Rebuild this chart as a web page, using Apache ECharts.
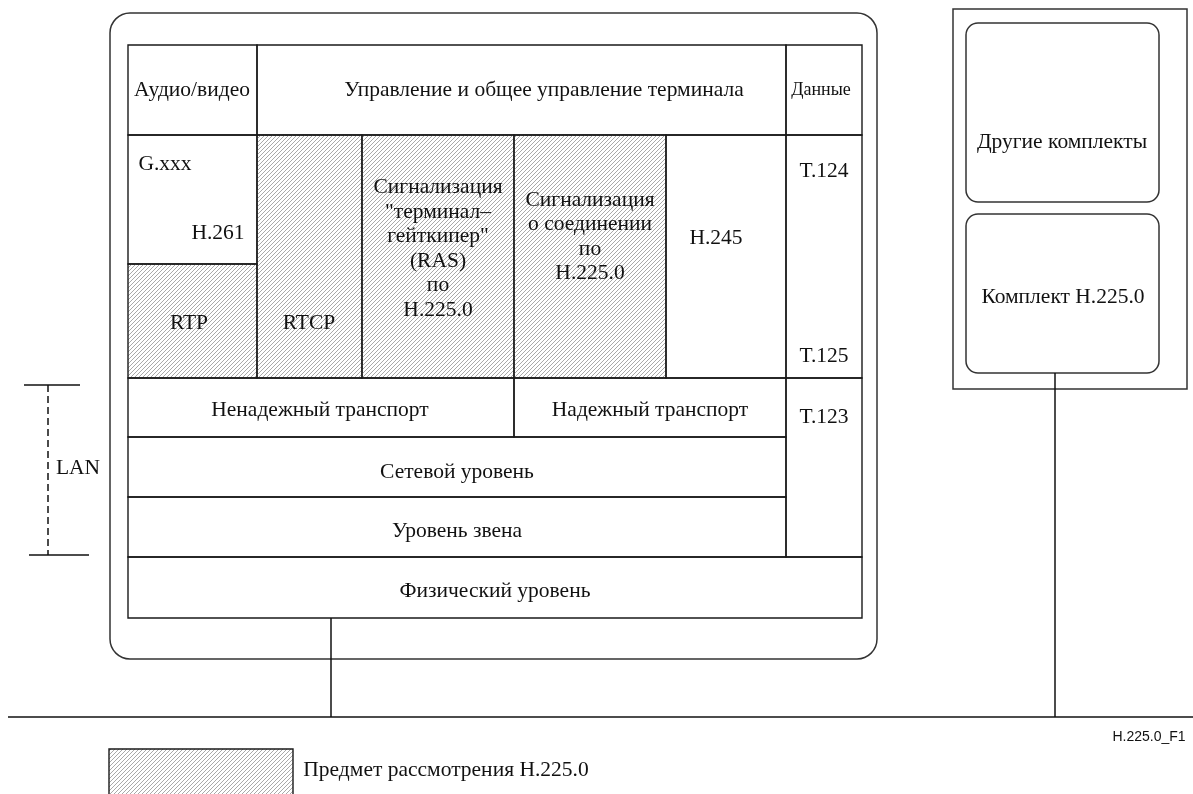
<!DOCTYPE html>
<html>
<head>
<meta charset="utf-8">
<script src="https://cdn.jsdelivr.net/npm/echarts@6/dist/echarts.min.js"></script>
<style>
html, body { margin: 0; background: #fff; }
#main { width: 1193px; height: 794px; }
</style>
</head>
<body>
<div id="main"></div>
<script>
// diagram units = page pixels, y grows downwards

// table cells: x0, y0, x1, y1, hatched
var cells = [
    [128, 45, 257, 135, 0],
    [257, 45, 786, 135, 0],
    [786, 45, 862, 135, 0],
    [128, 135, 257, 264, 0],
    [128, 264, 257, 378, 1],
    [257, 135, 362, 378, 1],
    [362, 135, 514, 378, 1],
    [514, 135, 666, 378, 1],
    [666, 135, 786, 378, 0],
    [786, 135, 862, 378, 0],
    [128, 378, 514, 437, 0],
    [514, 378, 786, 437, 0],
    [786, 378, 862, 557, 0],
    [128, 437, 786, 497, 0],
    [128, 497, 786, 557, 0],
    [128, 557, 862, 618, 0],
    [109, 749, 293, 800, 1]   // legend swatch
];

// frames: x0, y0, x1, y1, corner radius
var frames = [
    [110, 13, 877, 659, 20],
    [953, 9, 1187, 389, 0],
    [966, 23, 1159, 202, 12],
    [966, 214, 1159, 373, 12]
];

// connecting lines: x0, y0, x1, y1, dashed
var wires = [
    [331, 618, 331, 717, 0],
    [1055, 373, 1055, 717, 0],
    [8, 717, 1193, 717, 0],
    [24, 385, 80, 385, 0],
    [29, 555, 89, 555, 0],
    [48, 385, 48, 555, 1]
];

// texts: x, y, text
var labels = [
    [192, 90, 'Аудио/видео'],
    [544, 90, 'Управление и общее управление терминала'],
    [165, 164, 'G.xxx'],
    [218, 233, 'H.261'],
    [189, 323, 'RTP'],
    [309, 323, 'RTCP'],
    [438, 249, 'Сигнализация\n"терминал–\nгейткипер"\n(RAS)\nпо\nH.225.0'],
    [590, 237, 'Сигнализация\nо соединении\nпо\nH.225.0'],
    [716, 238, 'H.245'],
    [824, 171, 'T.124'],
    [824, 356, 'T.125'],
    [824, 417, 'T.123'],
    [320, 410, 'Ненадежный транспорт'],
    [650, 410, 'Надежный транспорт'],
    [457, 472, 'Сетевой уровень'],
    [457, 531, 'Уровень звена'],
    [495, 591, 'Физический уровень'],
    [1062, 142, 'Другие комплекты'],
    [1063, 297, 'Комплект H.225.0'],
    [78, 468, 'LAN'],
    [446, 770, 'Предмет рассмотрения H.225.0']
];
var smallLabels = [
    [821, 90, 'Данные']
];
var noteLabels = [
    [1149, 737, 'H.225.0_F1']
];

function makeHatch() {
    var c = document.createElement('canvas');
    c.width = 4;
    c.height = 4;
    var g = c.getContext('2d');
    g.strokeStyle = '#8c8c8c';
    g.lineWidth = 0.75;
    g.beginPath();
    g.moveTo(0, 4); g.lineTo(4, 0);
    g.moveTo(-1, 1); g.lineTo(1, -1);
    g.moveTo(3, 5); g.lineTo(5, 3);
    g.stroke();
    return c;
}
var hatch = { image: makeHatch(), repeat: 'repeat' };

function rectOf(api, d) {
    var p0 = api.coord([d[0], d[1]]);
    var p1 = api.coord([d[2], d[3]]);
    return { x: p0[0], y: p0[1], width: p1[0] - p0[0], height: p1[1] - p0[1] };
}

function textSeries(list, size, family) {
    return {
        type: 'custom',
        coordinateSystem: 'cartesian2d',
        data: list.map(function (d) { return [d[0], d[1]]; }),
        silent: true,
        renderItem: function (params, api) {
            var d = list[params.dataIndex];
            var p = api.coord([d[0], d[1]]);
            return {
                type: 'text',
                x: p[0],
                y: p[1],
                style: {
                    text: d[2],
                    fontSize: size,
                    fontFamily: family,
                    fill: '#111',
                    align: 'center',
                    verticalAlign: 'middle',
                    lineHeight: 24.5
                }
            };
        }
    };
}

var myChart = echarts.init(document.getElementById('main'));
myChart.setOption({
    animation: false,
    backgroundColor: '#fff',
    grid: { left: 0, right: 0, top: 0, bottom: 0 },
    xAxis: { type: 'value', min: 0, max: 1193, show: false },
    yAxis: { type: 'value', min: 0, max: 794, inverse: true, show: false },
    series: [
        {
            type: 'custom',
            coordinateSystem: 'cartesian2d',
            data: frames,
            silent: true,
            renderItem: function (params, api) {
                var d = frames[params.dataIndex];
                var r = rectOf(api, d);
                r.r = d[4];
                return {
                    type: 'rect',
                    shape: r,
                    style: { fill: 'none', stroke: '#333', lineWidth: 1.5 }
                };
            }
        },
        {
            type: 'custom',
            coordinateSystem: 'cartesian2d',
            data: cells,
            silent: true,
            renderItem: function (params, api) {
                var d = cells[params.dataIndex];
                return {
                    type: 'rect',
                    shape: rectOf(api, d),
                    style: {
                        fill: d[4] ? hatch : 'none',
                        stroke: '#1a1a1a',
                        lineWidth: 1.4
                    }
                };
            }
        },
        {
            type: 'custom',
            coordinateSystem: 'cartesian2d',
            data: wires,
            silent: true,
            renderItem: function (params, api) {
                var d = wires[params.dataIndex];
                var p0 = api.coord([d[0], d[1]]);
                var p1 = api.coord([d[2], d[3]]);
                return {
                    type: 'line',
                    shape: { x1: p0[0], y1: p0[1], x2: p1[0], y2: p1[1] },
                    style: {
                        stroke: '#111',
                        lineWidth: 1.5,
                        lineDash: d[4] ? [7, 4] : null
                    }
                };
            }
        },
        textSeries(labels, 21.5, '"Liberation Serif", "DejaVu Serif", serif'),
        textSeries(smallLabels, 18, '"Liberation Serif", "DejaVu Serif", serif'),
        textSeries(noteLabels, 14, '"Liberation Sans", Arial, sans-serif')
    ]
});
</script>
</body>
</html>
